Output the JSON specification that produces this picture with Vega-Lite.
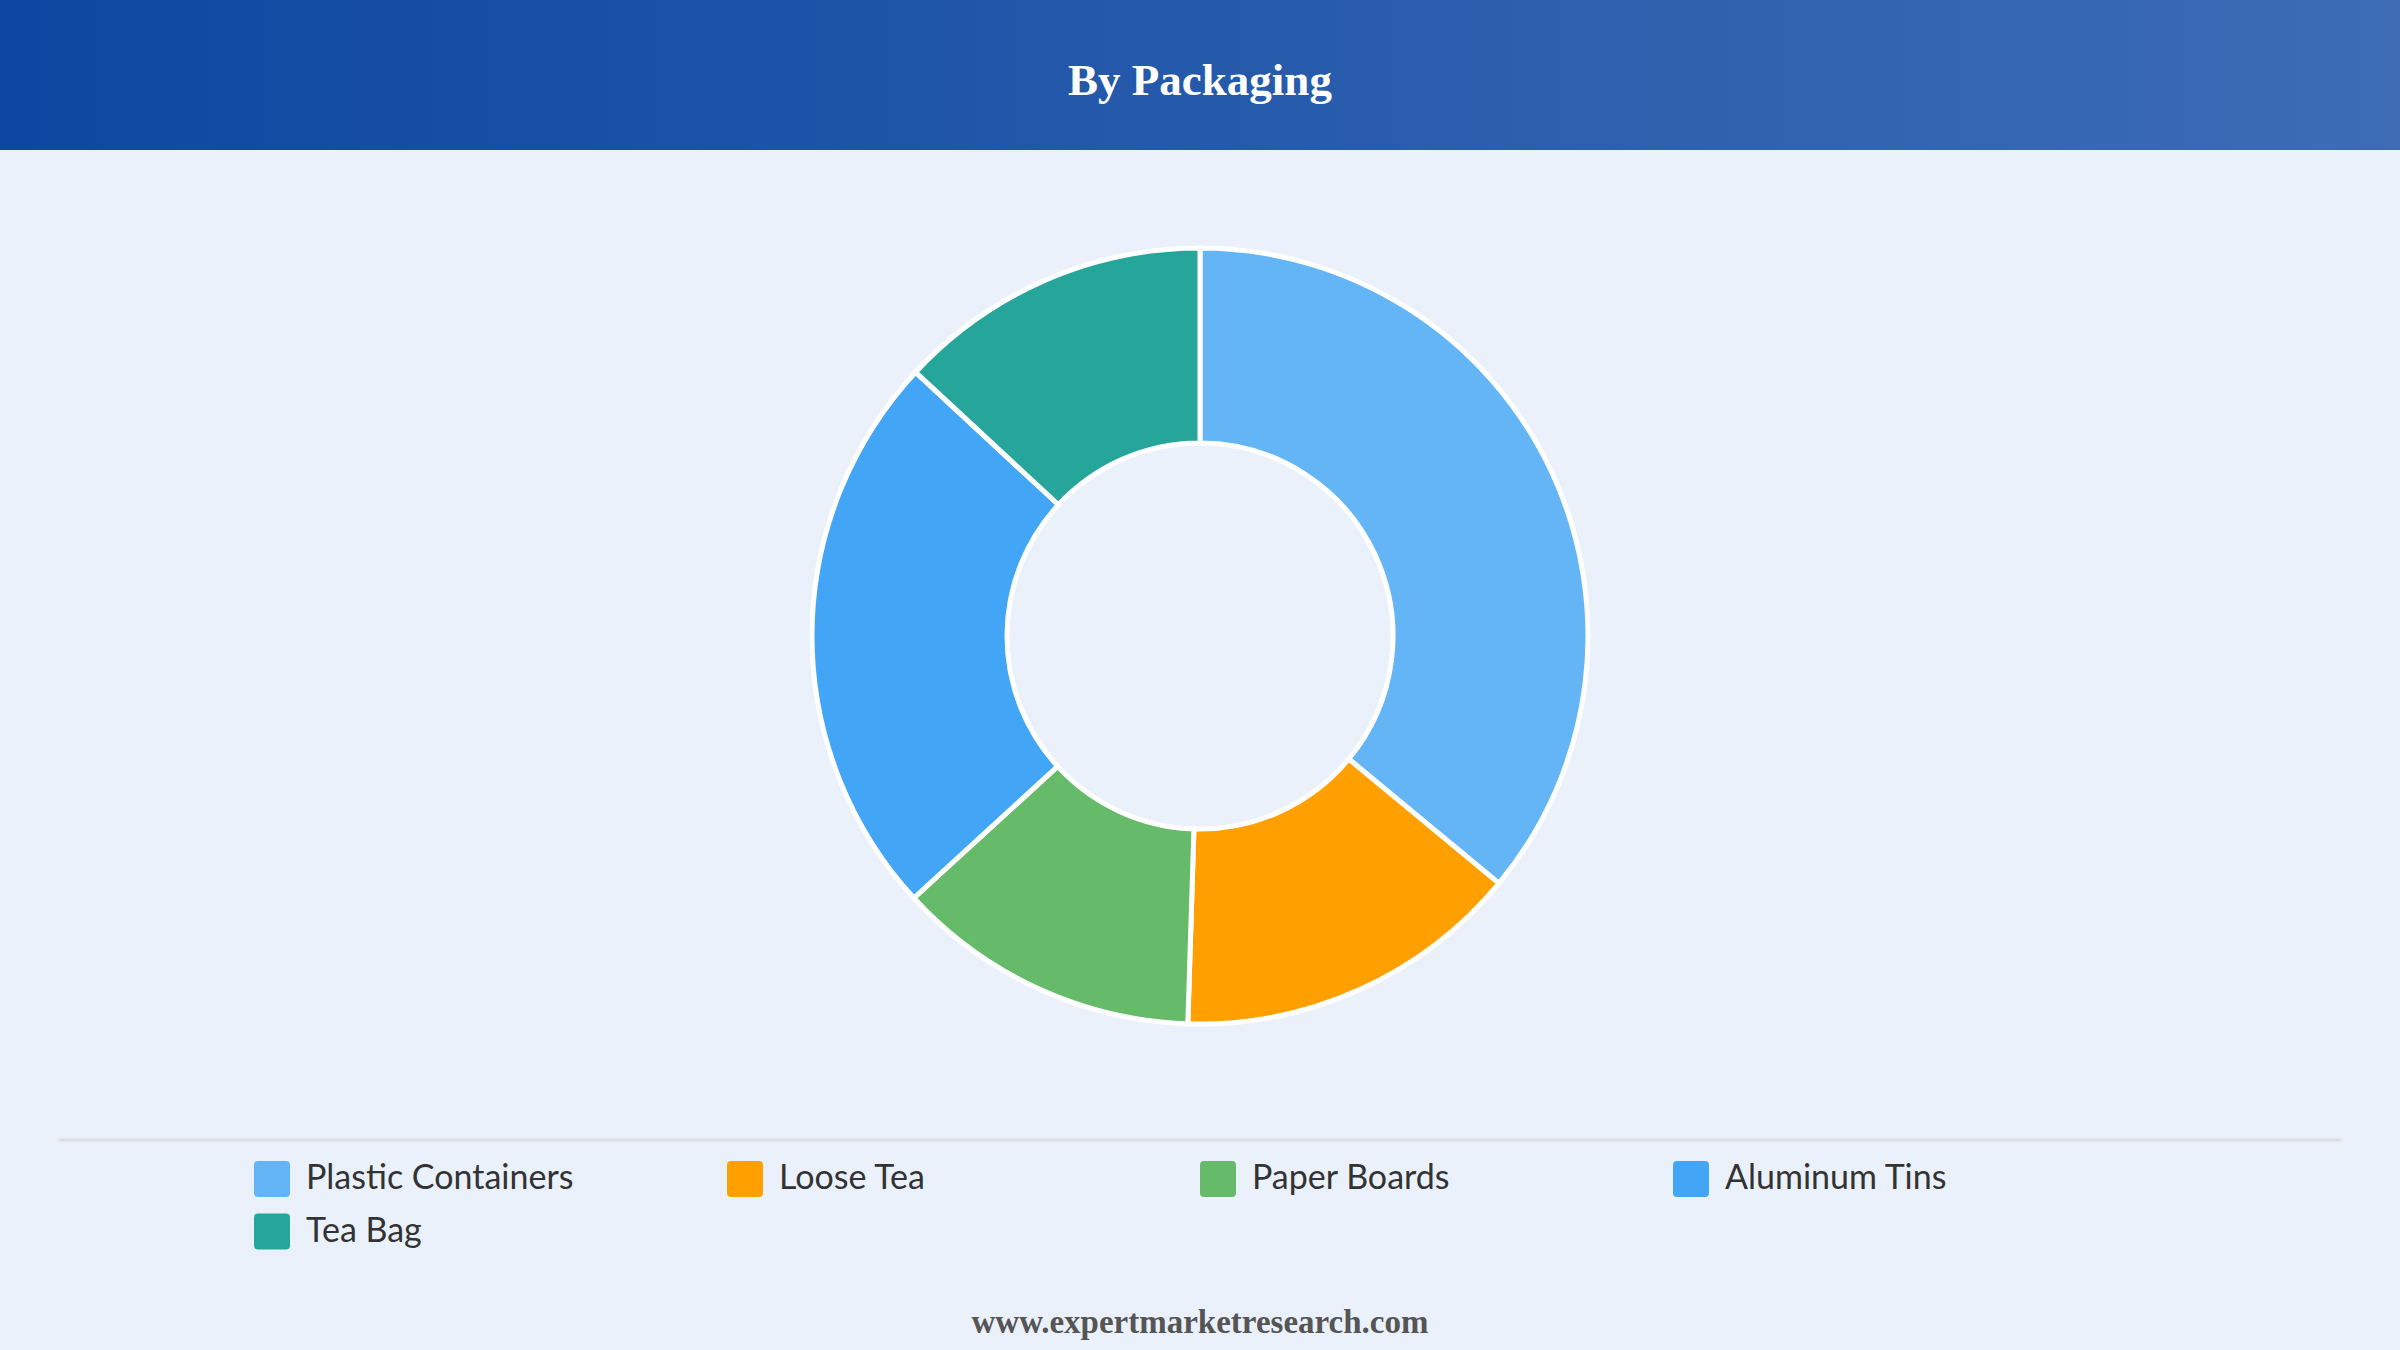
{
  "$schema": "https://vega.github.io/schema/vega-lite/v6.json",
  "background": "#EAF1FB",
  "padding": 0,
  "spacing": 0,
  "bounds": "flush",
  "center": true,
  "config": {"view": {"stroke": null}},
  "vconcat": [
    {
      "width": 2400,
      "height": 150,
      "data": {"values": [{"title": "By Packaging"}]},
      "layer": [
        {
          "mark": {
            "type": "rect",
            "fill": {
              "gradient": "linear",
              "x1": 0, "y1": 0, "x2": 1, "y2": 0,
              "stops": [
                {"offset": 0, "color": "#0D47A1"},
                {"offset": 1, "color": "#3D6CB5"}
              ]
            }
          },
          "encoding": {}
        },
        {
          "mark": {
            "type": "text",
            "font": "Liberation Serif",
            "fontWeight": "bold",
            "fontSize": 45,
            "fill": "#FFFFFF",
            "baseline": "alphabetic",
            "dy": 20
          },
          "encoding": {"text": {"field": "title"}}
        }
      ]
    },
    {
      "width": 2400,
      "height": 990,
      "data": {
        "values": [
          {"segment": "Plastic Containers", "share": 36.0},
          {"segment": "Loose Tea", "share": 14.5},
          {"segment": "Paper Boards", "share": 12.7},
          {"segment": "Aluminum Tins", "share": 23.7},
          {"segment": "Tea Bag", "share": 13.1}
        ]
      },
      "transform": [{"window": [{"op": "row_number", "as": "rank"}]}],
      "mark": {
        "type": "arc",
        "outerRadius": 388,
        "innerRadius": 193,
        "stroke": "#FFFFFF",
        "strokeWidth": 5,
        "yOffset": -9
      },
      "encoding": {
        "theta": {"field": "share", "type": "quantitative", "stack": true},
        "order": {"field": "rank", "type": "quantitative"},
        "color": {
          "field": "segment",
          "type": "nominal",
          "sort": ["Plastic Containers", "Loose Tea", "Paper Boards", "Aluminum Tins", "Tea Bag"],
          "scale": {
            "domain": ["Plastic Containers", "Loose Tea", "Paper Boards", "Aluminum Tins", "Tea Bag"],
            "range": ["#64B5F6", "#FFA000", "#66BB6A", "#42A5F5", "#26A69A"]
          },
          "legend": {
            "title": null,
            "orient": "none",
            "legendX": 254,
            "legendY": 1161,
            "direction": "horizontal",
            "columns": 4,
            "gridAlign": "all",
            "columnPadding": 153,
            "rowPadding": 16.5,
            "padding": 0,
            "symbolType": "M-0.78,-1H0.78Q1,-1,1,-0.78V0.78Q1,1,0.78,1H-0.78Q-1,1,-1,0.78V-0.78Q-1,-1,-0.78,-1Z",
            "symbolSize": 1296,
            "symbolStrokeWidth": 0,
            "symbolOpacity": 1,
            "labelFont": "Lato",
            "labelFontSize": 34,
            "labelColor": "#333333",
            "labelOffset": 16,
            "labelLimit": 500
          }
        }
      }
    },
    {
      "width": 2280,
      "height": 0.001,
      "view": {"stroke": "#DDE1E6", "strokeWidth": 3},
      "data": {"values": [{"a": 1}]},
      "mark": {"type": "point", "opacity": 0},
      "encoding": {}
    },
    {
      "width": 2400,
      "height": 210,
      "data": {"values": [{"site": "www.expertmarketresearch.com"}]},
      "mark": {
        "type": "text",
        "font": "Liberation Serif",
        "fontWeight": "bold",
        "fontSize": 33,
        "fill": "#555555",
        "baseline": "alphabetic",
        "dy": 87
      },
      "encoding": {"text": {"field": "site"}}
    }
  ]
}
